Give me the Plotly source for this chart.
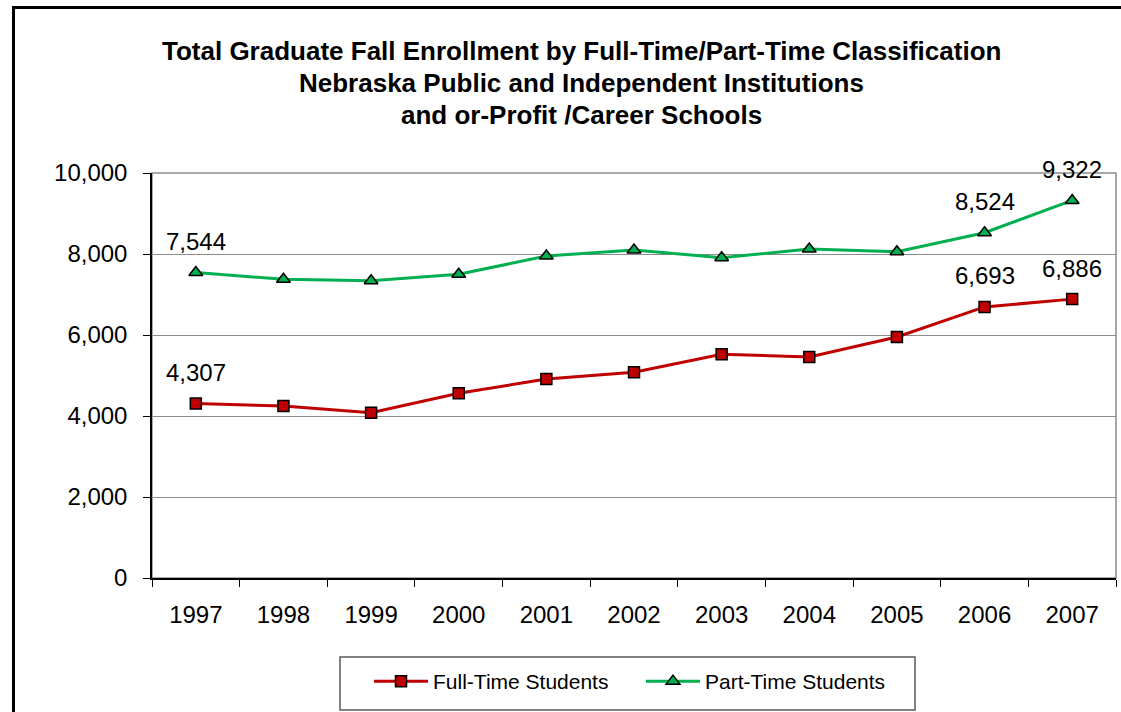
import plotly.graph_objects as go

years = ["1997", "1998", "1999", "2000", "2001", "2002", "2003", "2004", "2005", "2006", "2007"]
full_time = [4307, 4247, 4082, 4560, 4914, 5078, 5523, 5457, 5951, 6693, 6886]
part_time = [7544, 7375, 7341, 7498, 7951, 8099, 7909, 8123, 8057, 8524, 9322]
labeled_years = ["1997", "2006", "2007"]
y_ticks = [0, 2000, 4000, 6000, 8000, 10000]

title_lines = [
    "Total Graduate Fall Enrollment by Full-Time/Part-Time Classification",
    "Nebraska Public and Independent Institutions",
    "and or-Profit /Career Schools",
]

FONT = "Liberation Sans, Arial, sans-serif"
RED = "#C00000"
GREEN = "#00B050"

fig = go.Figure()
fig.add_trace(go.Scatter(
    x=years, y=full_time, name="Full-Time Students", mode="lines+markers",
    line=dict(color=RED, width=3),
    marker=dict(symbol="square", size=11, color=RED, line=dict(color="black", width=1.5)),
    cliponaxis=False,
))
fig.add_trace(go.Scatter(
    x=years, y=part_time, name="Part-Time Students", mode="lines+markers",
    line=dict(color=GREEN, width=3),
    marker=dict(symbol="triangle-up", size=12, color=GREEN, line=dict(color="black", width=1.5)),
    cliponaxis=False,
))

for series in (full_time, part_time):
    for i, (yr, v) in enumerate(zip(years, series)):
        if yr in labeled_years:
            fig.add_annotation(x=i, y=v, text=f"{v:,}", showarrow=False, yshift=31,
                               font=dict(family=FONT, size=24, color="black"))

L, R, T, B = 152, 5, 173, 134
W, H = 1121, 712
pw, ph = W - L - R, H - T - B

def px_x(p):
    return (p - L) / pw

def px_y(p):
    return (H - B - p) / ph

# title, one line per annotation
for line, yc in zip(title_lines, [51, 83, 115]):
    fig.add_annotation(text=f"<b>{line}</b>", xref="paper", yref="paper",
                       x=px_x(581), y=px_y(yc), xanchor="center", yanchor="middle",
                       showarrow=False, font=dict(family=FONT, size=26, color="black"))

# plot area border (gray)
fig.add_shape(type="rect", xref="x domain", yref="y domain", x0=0, x1=1, y0=0, y1=1,
              line=dict(color="#8c8c8c", width=1.5), layer="below")
# outer chart border (black)
fig.add_shape(type="line", xref="paper", yref="paper", x0=px_x(13.5), x1=px_x(13.5),
              y0=px_y(6), y1=px_y(730), line=dict(color="black", width=3))
fig.add_shape(type="line", xref="paper", yref="paper", x0=px_x(12), x1=px_x(1130),
              y0=px_y(7.5), y1=px_y(7.5), line=dict(color="black", width=3))
# legend box
fig.add_shape(type="rect", xref="paper", yref="paper", x0=px_x(340), x1=px_x(915),
              y0=px_y(710), y1=px_y(657), line=dict(color="#595959", width=1.5),
              fillcolor="rgba(0,0,0,0)")

fig.update_layout(
    width=W, height=H,
    margin=dict(l=L, r=R, t=T, b=B),
    paper_bgcolor="white", plot_bgcolor="white",
    font=dict(family=FONT, color="black"),
    showlegend=True,
    legend=dict(orientation="h", x=px_x(369), xanchor="left", y=px_y(661), yanchor="top",
                borderwidth=0, bgcolor="rgba(0,0,0,0)",
                font=dict(family=FONT, size=21, color="black"), itemwidth=54,
                entrywidth=203),
    xaxis=dict(type="category", range=[-0.5, len(years) - 0.5], tickson="boundaries",
               ticks="outside", ticklen=7,
               tickcolor="black", showline=True, linecolor="black", linewidth=1.5,
               showgrid=False, tickfont=dict(family=FONT, size=24, color="black"),
               ticklabelstandoff=14, tickangle=0),
    yaxis=dict(range=[0, 10000], tickvals=y_ticks, tickformat=",", ticks="outside", ticklen=7,
               tickcolor="black", showline=True, linecolor="black", linewidth=1.5,
               showgrid=True, gridcolor="#8c8c8c", gridwidth=1, zeroline=False,
               tickfont=dict(family=FONT, size=24, color="black"), ticklabelstandoff=11),
)

fig.write_html("out.html", config={"displayModeBar": False},
               post_script="document.body.style.margin='0';document.body.style.overflow='hidden';")
